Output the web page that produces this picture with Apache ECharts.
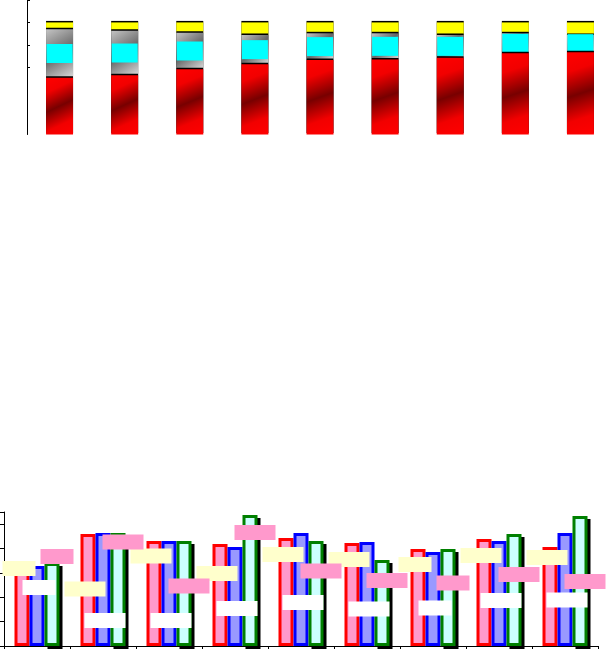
<!DOCTYPE html>
<html><head><meta charset="utf-8">
<script src="https://cdn.jsdelivr.net/npm/echarts@6/dist/echarts.min.js"></script>
<style>html,body{margin:0;padding:0;background:#fff}#c{width:613px;height:649px}</style>
</head><body><div id="c"></div>
<script>
// ---- data ----
const categories = ['1', '2', '3', '4', '5', '6', '7', '8', '9'];

// upper chart: stacked shares (sum = 100)
const stackRed = [50.7, 52.8, 58.2, 62.6, 66.5, 67.0, 68.5, 72.4, 73.3];
const stackGray = [43.1, 39.8, 32.6, 26.2, 23.8, 23.3, 20.3, 17.9, 15.5];
const stackYellow = [6.2, 7.4, 9.2, 11.2, 9.7, 9.7, 11.2, 9.7, 11.2];
const upperTicks = [60, 80, 100, 120];

// lower chart: grouped bars
const barRed = [69.8, 92.0, 86.2, 83.7, 88.7, 84.6, 79.6, 87.8, 81.3];
const barBlue = [65.7, 92.8, 86.2, 81.3, 92.8, 85.4, 77.2, 86.2, 92.8];
const barGreen = [68.1, 92.8, 86.2, 107.6, 86.2, 70.6, 79.6, 92.0, 106.7];

// lower chart: marker boxes
const markYellow = [63.6, 46.8, 73.9, 59.5, 75.1, 71.0, 66.9, 74.3, 72.7];
const markWhite = [48.0, 20.9, 20.9, 30.8, 35.7, 30.4, 31.2, 37.4, 37.8];
const markPink = [73.5, 85.4, 49.3, 93.2, 61.6, 53.8, 51.7, 58.7, 52.9];

// ---- chart ----
const chart = echarts.init(document.getElementById('c'), null, {renderer: 'canvas'});
const G = echarts.graphic.LinearGradient;
const redGrad = new G(0, 0, 1, 1, [
  {offset: 0, color: '#ff0000'}, {offset: 0.22, color: '#f20000'}, {offset: 0.5, color: '#780000'},
  {offset: 0.78, color: '#f20000'}, {offset: 1, color: '#ff0000'}]);
const grayGrad = new G(0, 0, 1, 1, [
  {offset: 0, color: '#c4c4c4'}, {offset: 0.5, color: '#666666'}, {offset: 1, color: '#dadada'}]);
const topLine = {shadowColor: '#000', shadowOffsetY: -1.5, shadowBlur: 0};
const boxW = [33, 41, 41, 41, 41, 41, 33, 41, 41];

function boxSeries(data, color, dx) {
  return {
    type: 'scatter', xAxisIndex: 1, yAxisIndex: 1, data: data, z: 10,
    symbol: 'rect',
    symbolSize: (v, p) => [boxW[p.dataIndex], 15],
    symbolOffset: [dx, 0],
    itemStyle: {color: color, opacity: 1},
    emphasis: {disabled: true}
  };
}
const hiddenAxis = {axisLine: {show: false}, axisTick: {show: false}, axisLabel: {show: false}, splitLine: {show: false}};

chart.setOption({
  animation: false,
  grid: [
    {left: 27, right: -2, top: 0, height: 134.5},
    {left: 4, right: 15, top: 512, bottom: 3},
    {left: 7, right: 12, top: 515, bottom: 0}   // drop-shadow layer of the lower chart
  ],
  xAxis: [
    Object.assign({type: 'category', gridIndex: 0, data: categories}, hiddenAxis),
    {type: 'category', gridIndex: 1, data: categories,
     axisLine: {show: true, lineStyle: {color: '#000', width: 1}},
     axisTick: {show: true, length: 3, lineStyle: {color: '#000'}},
     axisLabel: {show: false}},
    Object.assign({type: 'category', gridIndex: 2, data: categories}, hiddenAxis)
  ],
  yAxis: [
    {type: 'value', gridIndex: 0, min: 0, max: 120,
     axisLine: {show: true, lineStyle: {color: '#000', width: 1}},
     axisTick: {show: true, inside: true, length: 3, customValues: upperTicks, lineStyle: {color: '#000'}},
     axisLabel: {show: false}, splitLine: {show: false}},
    {type: 'value', gridIndex: 1, min: 0, max: 110, interval: 20,
     axisLine: {show: true, lineStyle: {color: '#000', width: 1}},
     axisTick: {show: true, length: 4, lineStyle: {color: '#000'}},
     axisLabel: {show: false}, splitLine: {show: false}},
    Object.assign({type: 'value', gridIndex: 2, min: 0, max: 110, interval: 20}, hiddenAxis)
  ],
  series: [
    {type: 'bar', stack: 's', data: stackRed, barWidth: 27, z: 4,
     itemStyle: Object.assign({color: redGrad}, topLine)},
    {type: 'bar', stack: 's', data: stackGray, barWidth: 27, z: 3,
     itemStyle: Object.assign({color: grayGrad}, topLine),
     label: {show: true, position: 'inside', formatter: '{c}', color: '#00ffff',
             backgroundColor: '#00ffff', width: 26, height: 19, lineHeight: 19,
             padding: 0, fontSize: 12, align: 'center'}},
    {type: 'bar', stack: 's', data: stackYellow, barWidth: 27, z: 2,
     itemStyle: Object.assign({color: '#ffff00'}, topLine)},

    // shadow layer (only the third bar of each group casts a visible shadow)
    {type: 'bar', xAxisIndex: 2, yAxisIndex: 2, data: barRed, barWidth: 15, barGap: '0%', z: 1,
     silent: true, itemStyle: {color: 'transparent'}},
    {type: 'bar', xAxisIndex: 2, yAxisIndex: 2, data: barBlue, barWidth: 15, barGap: '0%', z: 1,
     silent: true, itemStyle: {color: 'transparent'}},
    {type: 'bar', xAxisIndex: 2, yAxisIndex: 2, data: barGreen, barWidth: 15, barGap: '0%', z: 1,
     silent: true, itemStyle: {color: '#000', borderColor: '#000', borderWidth: 3}},

    {type: 'bar', xAxisIndex: 1, yAxisIndex: 1, data: barRed, barWidth: 15, barGap: '0%', z: 2,
     itemStyle: {color: '#ff99cc', borderColor: '#ff0000', borderWidth: 3}},
    {type: 'bar', xAxisIndex: 1, yAxisIndex: 1, data: barBlue, barWidth: 15, barGap: '0%', z: 2,
     itemStyle: {color: '#9999ff', borderColor: '#0000ff', borderWidth: 3}},
    {type: 'bar', xAxisIndex: 1, yAxisIndex: 1, data: barGreen, barWidth: 15, barGap: '0%', z: 2,
     itemStyle: {color: '#ccffff', borderColor: '#008000', borderWidth: 3}},

    boxSeries(markYellow, '#ffffcc', -18),
    boxSeries(markWhite, '#ffffff', 2),
    boxSeries(markPink, '#ff99cc', 20)
  ]
});
</script></body></html>
